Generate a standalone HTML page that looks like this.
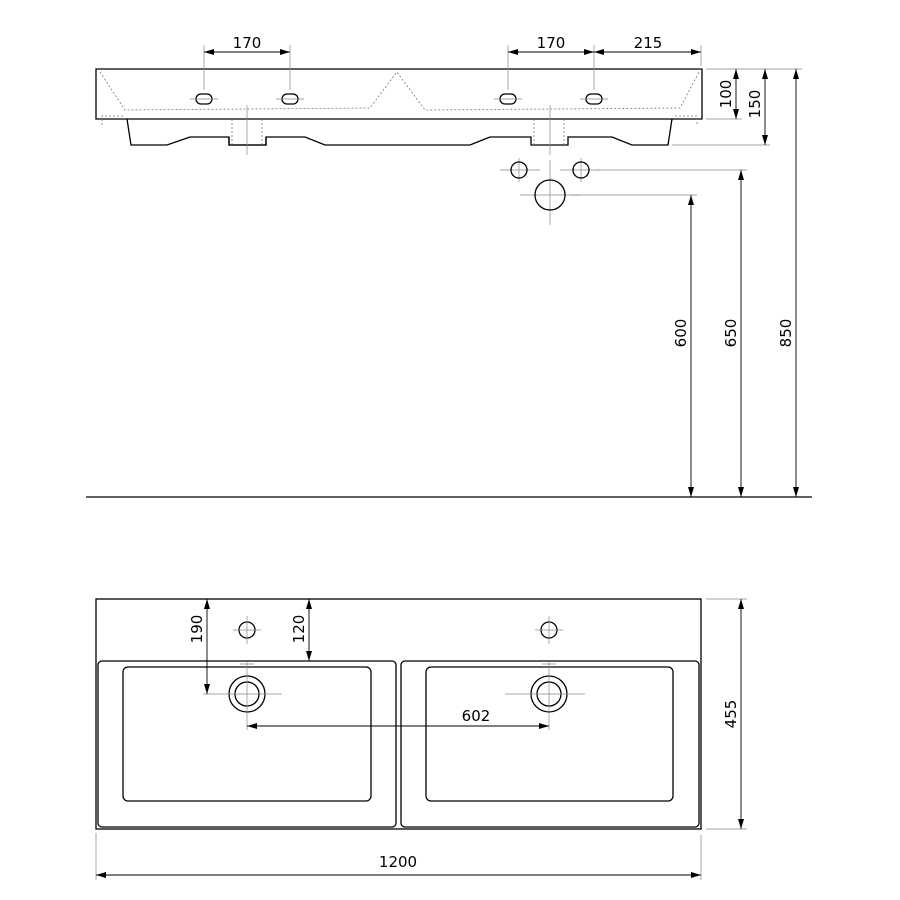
<!DOCTYPE html>
<html><head><meta charset="utf-8"><style>html,body{margin:0;padding:0;background:#fff}svg{display:block}</style></head><body>
<svg width="900" height="900" viewBox="0 0 900 900" xmlns="http://www.w3.org/2000/svg" font-family="'DejaVu Sans','Liberation Sans',sans-serif" font-size="15" fill="none">
<defs><marker id="a" viewBox="0 0 10 6" refX="10" refY="3" markerWidth="10" markerHeight="6" orient="auto-start-reverse" markerUnits="userSpaceOnUse"><path d="M0,0L10,3L0,6z" fill="#000"/></marker></defs>
<g stroke="#000" stroke-width="1.3">
<!-- side elevation -->
<path d="M96,69H702V119H96Z"/>
<path d="M127,119L131,145H167L190,137H229V145H266V137H305L325,145H470L490,137H531V145H568V137H612L632,145H668L672,119"/>
<path d="M229,137V145H266V137"/>
<g fill="#fff"><rect x="196" y="94" width="16" height="10" rx="5"/><rect x="282" y="94" width="16" height="10" rx="5"/><rect x="500" y="94" width="16" height="10" rx="5"/><rect x="586" y="94" width="16" height="10" rx="5"/></g>
</g>
<g stroke="#777" stroke-width="0.8" stroke-dasharray="2,2">
<path d="M100,72L125,110L370,108L397,72L425,110L680,108L699,72"/>
<path d="M102,125V116H125"/><path d="M675,116H697V125"/>
<path d="M232,119V145M262,119V145M534,119V145M564,119V145"/>
</g>
<g stroke="#888" stroke-width="0.7">
<path d="M204,45V90M290,45V90M508,45V90M594,45V90M701,45V66"/>
<path d="M190,99H218M276,99H304M494,99H522M580,99H608"/>
<path d="M247,105V155M550,105V155M550,160V225"/>
<path d="M500,170H540M560,170H600M520,195H580"/>
<path d="M519,158V182M581,158V182"/>
<path d="M706,69H802M706,119H742M672,145H770M597,170H747M570,195H697"/>
</g>
<g stroke="#000" stroke-width="1.3">
<circle cx="519" cy="170" r="8"/><circle cx="581" cy="170" r="8"/><circle cx="550" cy="195" r="15"/>
</g>
<g stroke="#000" stroke-width="0.9">
<path d="M204,52H290" marker-start="url(#a)" marker-end="url(#a)"/>
<path d="M508,52H594" marker-start="url(#a)" marker-end="url(#a)"/>
<path d="M594,52H701" marker-start="url(#a)" marker-end="url(#a)"/>
<path d="M736,69V119" marker-start="url(#a)" marker-end="url(#a)"/>
<path d="M765,69V145" marker-start="url(#a)" marker-end="url(#a)"/>
<path d="M796,69V497" marker-start="url(#a)" marker-end="url(#a)"/>
<path d="M741,170V497" marker-start="url(#a)" marker-end="url(#a)"/>
<path d="M691,195V497" marker-start="url(#a)" marker-end="url(#a)"/>
</g>
<path d="M86,497H812" stroke="#000" stroke-width="1.3"/>
<g fill="#000" text-anchor="middle">
<text x="247" y="48">170</text><text x="551" y="48">170</text><text x="648" y="48">215</text>
<text transform="translate(731,94) rotate(-90)">100</text>
<text transform="translate(760,104) rotate(-90)">150</text>
<text transform="translate(686,333) rotate(-90)">600</text>
<text transform="translate(736,333) rotate(-90)">650</text>
<text transform="translate(791,333) rotate(-90)">850</text>
</g>
<!-- plan view -->
<g stroke="#000" stroke-width="1.3">
<rect x="96" y="599" width="605" height="230"/>
<rect x="98" y="661" width="298" height="166" rx="4"/>
<rect x="123" y="667" width="248" height="134" rx="5"/>
<rect x="401" y="661" width="298" height="166" rx="4"/>
<rect x="426" y="667" width="247" height="134" rx="5"/>
<circle cx="247" cy="694" r="18"/><circle cx="247" cy="694" r="12"/>
<circle cx="549" cy="694" r="18"/><circle cx="549" cy="694" r="12"/>
<circle cx="247" cy="630" r="8"/><circle cx="549" cy="630" r="8"/>
</g>
<g stroke="#888" stroke-width="0.7">
<path d="M203,694H282M247,662V730M505,694H585M549,662V730M233,630H261M247,616V644M535,630H563M549,616V644M240,664H254M542,664H556"/>
<path d="M706,599H747M706,829H747M96,833V880M701,835V880"/>
</g>
<g stroke="#000" stroke-width="0.9">
<path d="M207,599V694" marker-start="url(#a)" marker-end="url(#a)"/>
<path d="M309,599V661" marker-start="url(#a)" marker-end="url(#a)"/>
<path d="M247,726H549" marker-start="url(#a)" marker-end="url(#a)"/>
<path d="M741,599V829" marker-start="url(#a)" marker-end="url(#a)"/>
<path d="M96,875H701" marker-start="url(#a)" marker-end="url(#a)"/>
</g>
<g fill="#000" text-anchor="middle">
<text transform="translate(202,629) rotate(-90)">190</text>
<text transform="translate(304,629) rotate(-90)">120</text>
<text x="476" y="721">602</text>
<text transform="translate(736,714) rotate(-90)">455</text>
<text x="398" y="867">1200</text>
</g>
</svg>
</body></html>
